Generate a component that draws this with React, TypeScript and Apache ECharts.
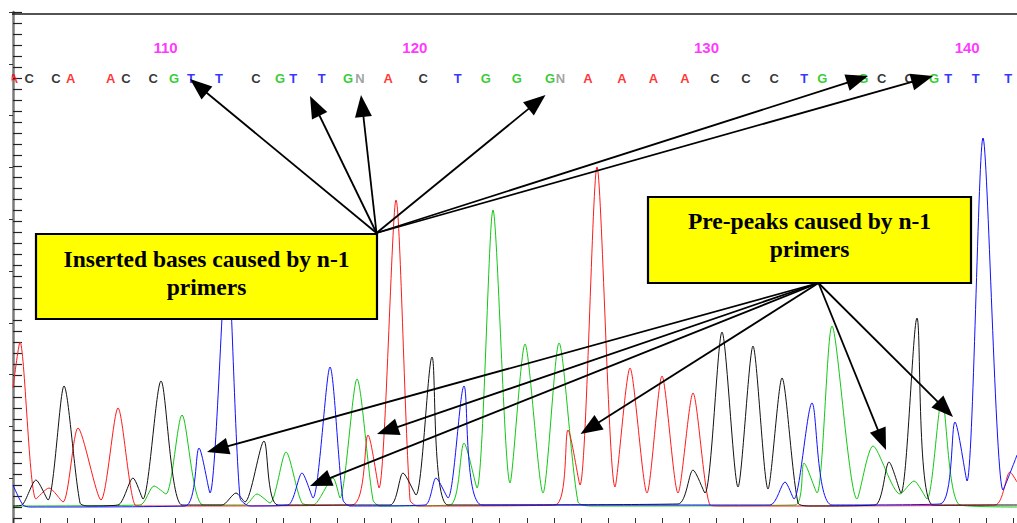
import { useEffect, useRef } from "react";
import * as echarts from "echarts";

// Trace points: [scan position, signal above baseline]; peaks and valleys
const TRACE_A: [number, number][] = [
  [0, 119], [7, 165], [23, 8], [36, 19], [50, 5], [65, 79], [88, 7], [105, 99], [122, 2], [132, 1],
  [339, 2], [355, 72], [366, 19], [383, 307], [397, 7], [405, 1],
  [542, 2], [555, 77], [567, 22], [584, 340], [602, 20], [617, 139], [634, 14], [649, 131], [665, 14],
  [680, 114], [697, 2], [707, 1], [982, 2], [997, 35], [1004, 25],
];
const TRACE_C: [number, number][] = [
  [0, 1], [9, 2], [23, 27], [35, 7], [51, 121], [67, 4], [75, 1], [105, 2], [120, 29], [130, 8],
  [148, 126], [169, 2], [209, 2], [223, 14], [232, 5], [251, 66], [265, 2], [377, 2], [390, 34],
  [403, 12], [419, 150], [435, 2], [665, 3], [680, 37], [692, 14], [709, 175], [725, 20], [740, 161],
  [755, 18], [769, 129], [785, 4], [797, 1], [862, 2], [876, 45], [888, 14], [904, 189], [920, 2],
  [1004, 2],
];
const TRACE_G: [number, number][] = [
  [0, 1], [127, 2], [141, 21], [153, 13], [169, 92], [190, 2], [232, 2], [244, 13], [257, 4],
  [273, 55], [289, 4], [300, 2], [320, 29], [327, 9], [344, 128], [360, 7], [367, 1], [437, 2],
  [451, 64], [464, 19], [480, 297], [497, 24], [512, 163], [530, 14], [546, 164], [565, 5], [577, 1],
  [782, 2], [791, 44], [804, 14], [819, 181], [844, 8], [860, 61], [887, 13], [901, 26], [914, 8],
  [929, 108], [947, 2], [1004, 0],
];
const TRACE_T: [number, number][] = [
  [0, 22], [10, 2], [17, 0], [172, 1], [186, 59], [197, 14], [214, 257], [227, 9], [237, 1],
  [275, 2], [289, 34], [300, 9], [317, 140], [330, 7], [337, 1], [412, 2], [423, 29], [435, 9],
  [451, 121], [469, 2], [757, 2], [772, 25], [781, 8], [799, 104], [819, 2], [927, 3], [942, 85],
  [954, 26], [970, 369], [990, 17], [1001, 44], [1004, 52],
];

const BASE_CALLS = [
  "A", "C", "C", "A", "A", "C", "C", "G", "T", "T", "C", "G", "T", "T", "G", "N", "A", "C", "T", "G",
  "G", "G", "N", "A", "A", "A", "A", "C", "C", "C", "T", "G", "G", "C", "C", "G", "T", "T", "T",
];
const BASE_POS = [
  0.5, 16.3, 43, 57.7, 97.7, 113, 140.3, 161, 178, 206, 243, 267, 280.3, 308.7, 335, 347, 375.3,
  410.3, 444.7, 472.7, 503.7, 537, 547.5, 575, 609, 640.5, 672, 702, 733, 761.3, 791.2, 809.2,
  850.3, 868.7, 896.3, 921, 935.3, 962.7, 995.3,
];
const FIRST_BASE_NUMBER = 103;

const ANNOTATION_1 = "Inserted bases caused by n-1\nprimers";
const ANNOTATION_2 = "Pre-peaks caused by n-1\nprimers";

// layout constants
const LETTER_ROW = 429;
const NUMBER_ROW = 460;
const COLORS: Record<string, string> = {
  A: "#ff0000",
  C: "#000000",
  G: "#00c000",
  T: "#0000ff",
  N: "#8a8a8a",
};
const TRACE_COLORS = { A: "#ff1a1a", C: "#111111", G: "#12c812", T: "#1010ff" };

const BOX1 = { x: 36, y: 234, w: 341, h: 85 };
const BOX2 = { x: 648, y: 197, w: 323, h: 86 };
const ORIGIN1: [number, number] = [376.5, 233];
const ORIGIN2: [number, number] = [818.5, 283];
const TIPS1: [number, number][] = [
  [190, 79], [310, 96], [361, 95], [545.5, 95], [868, 76], [933, 76],
];
const TIPS2: [number, number][] = [
  [207, 452], [377, 434], [310, 486], [580.5, 434], [886, 450], [953, 417],
];

const ARROW_LEN = 22;
const ARROW_W = 17;

function arrowEls(o: [number, number], t: [number, number]) {
  const dx = t[0] - o[0];
  const dy = t[1] - o[1];
  const d = Math.hypot(dx, dy);
  const ux = dx / d;
  const uy = dy / d;
  const bx = t[0] - ux * ARROW_LEN;
  const by = t[1] - uy * ARROW_LEN;
  const nx = (-uy * ARROW_W) / 2;
  const ny = (ux * ARROW_W) / 2;
  return [
    {
      type: "line",
      z: 110,
      silent: true,
      shape: { x1: o[0], y1: o[1], x2: bx + ux * 2, y2: by + uy * 2 },
      style: { stroke: "#000", lineWidth: 1.8 },
    },
    {
      type: "polygon",
      z: 111,
      silent: true,
      shape: { points: [[t[0], t[1]], [bx + nx, by + ny], [bx - nx, by - ny]] },
      style: { fill: "#000" },
    },
  ];
}

function boxEls(b: { x: number; y: number; w: number; h: number }, text: string, dy: number) {
  return [
    {
      type: "rect",
      z: 100,
      silent: true,
      shape: { x: b.x, y: b.y, width: b.w, height: b.h },
      style: { fill: "#ffff00", stroke: "#000", lineWidth: 2.2 },
    },
    {
      type: "text",
      z: 120,
      silent: true,
      x: b.x + b.w / 2,
      y: b.y + b.h / 2 + dy,
      style: {
        text,
        fill: "#000",
        font: 'bold 23.5px "Liberation Serif", "Times New Roman", serif',
        align: "center",
        verticalAlign: "middle",
        lineHeight: 28,
      },
    },
  ];
}

export default function App() {
  const ref = useRef<HTMLDivElement>(null);
  useEffect(() => {
    if (!ref.current) return;
    const chart = echarts.init(ref.current, null, { renderer: "svg" });

    const traceSeries = (name: string, data: [number, number][], color: string) => ({
      type: "line",
      name,
      data,
      xAxisIndex: 0,
      yAxisIndex: 0,
      showSymbol: false,
      symbol: "none",
      smooth: 0.25,
      silent: true,
      lineStyle: { color, width: 1 },
      z: 3,
    });

    const numberData = BASE_CALLS.map((_, i) => FIRST_BASE_NUMBER + i)
      .map((n, i) => ({ n, i }))
      .filter((d) => d.n % 10 === 0)
      .map((d) => ({ name: String(d.n), value: [BASE_POS[d.i], NUMBER_ROW] }));

    const graphics: any[] = [
      {
        type: "line",
        z: 90,
        silent: true,
        shape: { x1: 12, y1: 14, x2: 1017, y2: 14 },
        style: { stroke: "#1a1a1a", lineWidth: 1.6 },
      },
      {
        type: "rect",
        z: 90,
        silent: true,
        shape: { x: 0, y: 70, width: 11.5, height: 18 },
        style: { fill: "#ffffff" },
      },
      ...boxEls(BOX1, ANNOTATION_1, -4),
      ...boxEls(BOX2, ANNOTATION_2, -5),
      ...TIPS1.flatMap((t) => arrowEls(ORIGIN1, t)),
      ...TIPS2.flatMap((t) => arrowEls(ORIGIN2, t)),
    ];

    chart.setOption({
      animation: false,
      backgroundColor: "#ffffff",
      grid: [
        { left: 13, right: 0, top: 12, bottom: 1 },
        { left: 13, right: 0, top: 12, height: 550 },
      ],
      xAxis: [
        {
          type: "value",
          gridIndex: 0,
          min: 0,
          max: 1004,
          interval: 27.04,
          position: "bottom",
          axisLine: { show: false, onZero: false },
          axisTick: { show: true, inside: true, length: 11, lineStyle: { color: "#333", width: 1 } },
          axisLabel: { show: false },
          splitLine: { show: false },
        },
        {
          type: "value",
          gridIndex: 1,
          min: 0,
          max: 1004,
          show: false,
        },
      ],
      yAxis: [
        {
          type: "value",
          gridIndex: 0,
          min: -22,
          max: 495,
          interval: 11,
          axisLine: { show: true, onZero: false, lineStyle: { color: "#7a7a7a", width: 2.5 } },
          axisTick: { show: true, inside: true, length: 9, lineStyle: { color: "#222", width: 1.2 } },
          axisLabel: { show: false },
          splitLine: { show: false },
        },
        {
          type: "value",
          gridIndex: 1,
          min: -55,
          max: 495,
          interval: 55,
          axisLine: { show: false },
          axisTick: { show: true, inside: false, length: 4, lineStyle: { color: "#333", width: 1 } },
          axisLabel: { show: false },
          splitLine: { show: false },
        },
      ],
      series: [
        traceSeries("G", TRACE_G, TRACE_COLORS.G),
        traceSeries("A", TRACE_A, TRACE_COLORS.A),
        traceSeries("C", TRACE_C, TRACE_COLORS.C),
        traceSeries("T", TRACE_T, TRACE_COLORS.T),
        {
          type: "scatter",
          name: "bases",
          xAxisIndex: 0,
          yAxisIndex: 0,
          clip: false,
          silent: true,
          symbolSize: 1,
          itemStyle: { color: "rgba(0,0,0,0)" },
          data: BASE_CALLS.map((b, i) => ({
            name: b,
            value: [BASE_POS[i], LETTER_ROW],
            label: { color: COLORS[b] },
          })),
          label: {
            show: true,
            position: "inside",
            formatter: "{b}",
            fontFamily: '"Liberation Sans", Arial, sans-serif',
            fontWeight: "bold",
            fontSize: 13,
          },
          z: 5,
        },
        {
          type: "scatter",
          name: "numbers",
          xAxisIndex: 0,
          yAxisIndex: 0,
          clip: false,
          silent: true,
          symbolSize: 1,
          itemStyle: { color: "rgba(0,0,0,0)" },
          data: numberData,
          label: {
            show: true,
            position: "inside",
            offset: [-8.5, 0],
            formatter: "{b}",
            color: "#ff00ff",
            fontFamily: '"Liberation Sans", Arial, sans-serif',
            fontWeight: "bold",
            fontSize: 15,
          },
          z: 5,
        },
      ],
      graphic: graphics,
    });
    return () => chart.dispose();
  }, []);
  return (
    <div
      ref={ref}
      style={{ position: "fixed", left: 0, top: 0, width: 1017, height: 530, background: "#fff" }}
    />
  );
}
